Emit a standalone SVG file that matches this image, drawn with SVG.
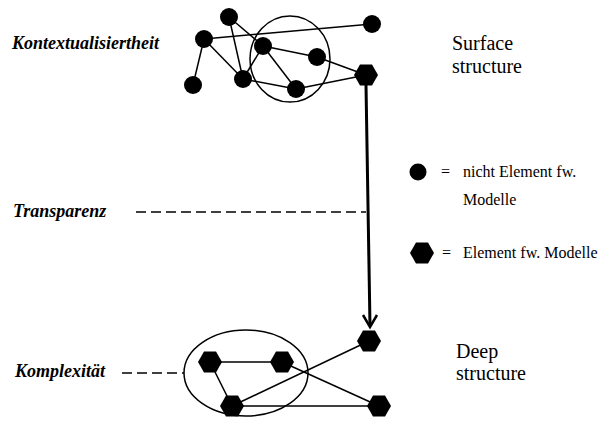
<svg xmlns="http://www.w3.org/2000/svg" width="611" height="422" viewBox="0 0 611 422">
  <style>
    .edge { stroke: #000; stroke-width: 1.5; fill: none; }
    .ring { stroke: #000; stroke-width: 1.5; fill: none; }
    .dash { stroke: #000; stroke-width: 1.5; stroke-dasharray: 10 5; fill: none; }
    .dot { fill: #000; }
    .hex { fill: #000; }
    .lbl { font-family: "Liberation Serif", "Times New Roman", serif; font-size: 18px; font-weight: bold; font-style: italic; fill: #000; }
    .lvl { font-family: "Liberation Serif", "Times New Roman", serif; font-size: 20px; fill: #000; }
    .key { font-family: "Liberation Serif", "Times New Roman", serif; font-size: 16px; fill: #000; }
  </style>
  <defs>
    <polygon id="hexShape" points="-12,0 -6,-10.4 6,-10.4 12,0 6,10.4 -6,10.4"/>
  </defs>

  <!-- level labels -->
  <text class="lbl" x="12" y="49">Kontextualisiertheit</text>
  <text class="lbl" x="13" y="217">Transparenz</text>
  <text class="lbl" x="15" y="377">Komplexität</text>

  <text class="lvl" x="452" y="50">Surface</text>
  <text class="lvl" x="452" y="73">structure</text>
  <text class="lvl" x="456" y="358">Deep</text>
  <text class="lvl" x="456" y="380">structure</text>

  <!-- connectors -->
  <g id="connectors">
    <!-- surface structure edges -->
    <line class="edge" x1="229" y1="17" x2="243" y2="79"/>
    <line class="edge" x1="229" y1="17" x2="263" y2="46"/>
    <line class="edge" x1="204" y1="39" x2="372" y2="24"/>
    <line class="edge" x1="204" y1="39" x2="193" y2="85"/>
    <line class="edge" x1="204" y1="39" x2="243" y2="79"/>
    <line class="edge" x1="243" y1="79" x2="263" y2="46"/>
    <line class="edge" x1="243" y1="79" x2="296" y2="89"/>
    <line class="edge" x1="263" y1="46" x2="296" y2="89"/>
    <line class="edge" x1="263" y1="46" x2="317" y2="57"/>
    <line class="edge" x1="317" y1="57" x2="366" y2="75"/>
    <line class="edge" x1="296" y1="89" x2="366" y2="75"/>
    <!-- deep structure edges -->
    <line class="edge" x1="210" y1="362" x2="282" y2="362"/>
    <line class="edge" x1="210" y1="362" x2="232" y2="406"/>
    <line class="edge" x1="232" y1="406" x2="369" y2="341"/>
    <line class="edge" x1="282" y1="362" x2="379" y2="406"/>
    <line class="edge" x1="232" y1="406" x2="379" y2="406"/>
    <!-- grouping outlines -->
    <ellipse class="ring" cx="290" cy="59" rx="40" ry="43"/>
    <ellipse class="ring" cx="246" cy="373" rx="62" ry="43"/>
    <!-- level markers -->
    <line class="dash" x1="136" y1="212" x2="366" y2="212"/>
    <line class="dash" x1="122" y1="373" x2="184" y2="373"/>
    <!-- surface to deep transformation -->
    <line x1="366" y1="85" x2="370" y2="326" stroke="#000" stroke-width="3"/>
    <polyline points="363,315 370,327 377,315" fill="none" stroke="#000" stroke-width="2.5"/>
  </g>

  <!-- surface structure nodes -->
  <g id="s1"><circle class="dot" cx="229" cy="17" r="9"/></g>
  <g id="s2"><circle class="dot" cx="204" cy="39" r="9"/></g>
  <g id="s3"><circle class="dot" cx="193" cy="85" r="9"/></g>
  <g id="s4"><circle class="dot" cx="243" cy="79" r="9"/></g>
  <g id="s5"><circle class="dot" cx="263" cy="46" r="9"/></g>
  <g id="s6"><circle class="dot" cx="317" cy="57" r="9"/></g>
  <g id="s7"><circle class="dot" cx="296" cy="89" r="9"/></g>
  <g id="s8"><circle class="dot" cx="372" cy="24" r="9"/></g>
  <g id="s9"><use href="#hexShape" class="hex" x="366" y="75"/></g>

  <!-- deep structure nodes -->
  <g id="d1"><use href="#hexShape" class="hex" x="210" y="362"/></g>
  <g id="d2"><use href="#hexShape" class="hex" x="282" y="362"/></g>
  <g id="d3"><use href="#hexShape" class="hex" x="232" y="406"/></g>
  <g id="d4"><use href="#hexShape" class="hex" x="369" y="341"/></g>
  <g id="d5"><use href="#hexShape" class="hex" x="379" y="406"/></g>

  <!-- legend -->
  <g id="legend">
    <circle class="dot" cx="418" cy="172" r="8.5"/>
    <text class="key" x="441" y="177">=</text>
    <text class="key" x="463" y="177">nicht Element fw.</text>
    <text class="key" x="463" y="205">Modelle</text>
    <use href="#hexShape" class="hex" x="422" y="253"/>
    <text class="key" x="442" y="258">=</text>
    <text class="key" x="463" y="258">Element fw. Modelle</text>
  </g>
</svg>
